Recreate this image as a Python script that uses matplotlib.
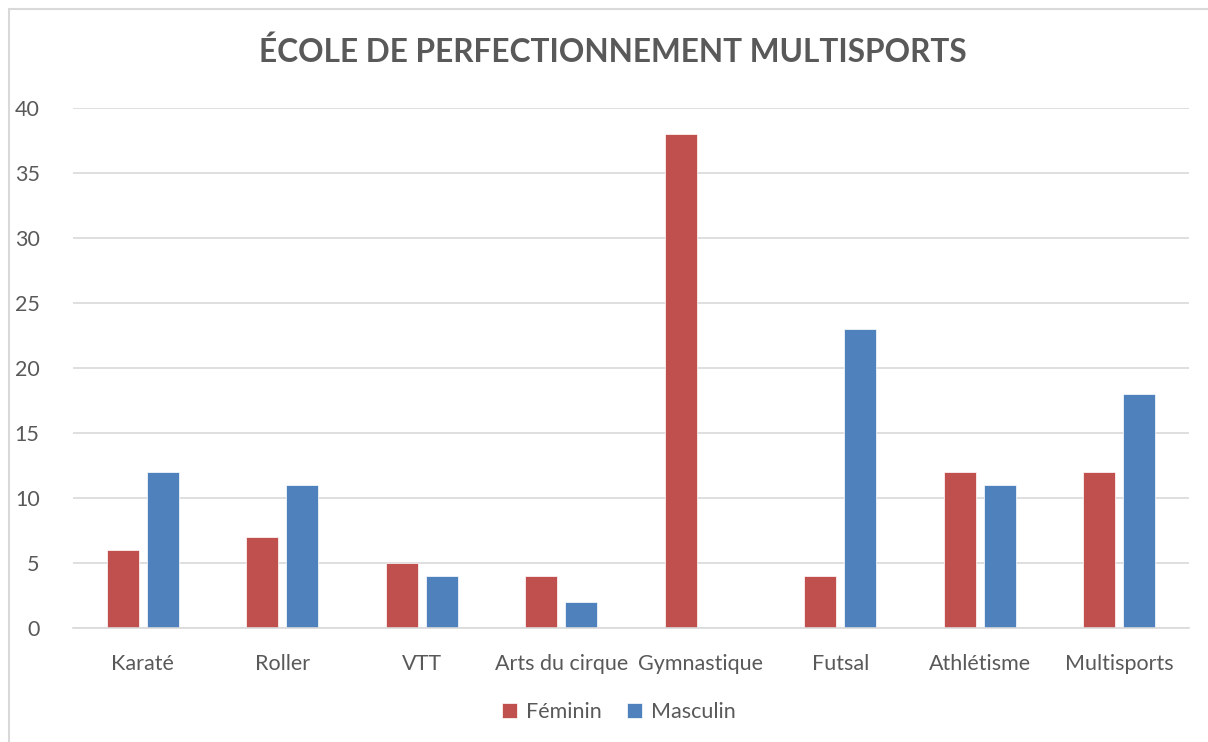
import matplotlib
matplotlib.use("Agg")
import matplotlib.pyplot as plt
from matplotlib.patches import Rectangle
import numpy as np

categories = ["Karaté", "Roller", "VTT", "Arts du cirque", "Gymnastique", "Futsal", "Athlétisme", "Multisports"]
feminin = [6, 7, 5, 4, 38, 4, 12, 12]
masculin = [12, 11, 4, 2, 0, 23, 11, 18]
title = "ÉCOLE DE PERFECTIONNEMENT MULTISPORTS"

plt.rcParams['font.family'] = ['Lato', 'DejaVu Sans']

W, H = 1208, 742
fig = plt.figure(figsize=(W/100, H/100), dpi=100)
ax = fig.add_axes([73/W, 1-628/H, (1189-73)/W, (628-108)/H])

x = np.arange(len(categories))
bw = 0.23
gap = 0.057
red = "#C0504D"
blue = "#4F81BD"
ax.bar(x - (bw+gap)/2, feminin, bw, color=red, label="Féminin", edgecolor="white", linewidth=0.5)
ax.bar(x + (bw+gap)/2, masculin, bw, color=blue, label="Masculin", edgecolor="white", linewidth=0.5)

ax.set_xlim(-0.5, len(categories)-0.5)
ax.set_ylim(0, 40)
ax.set_yticks(range(0, 41, 5))
ax.yaxis.grid(True, color="#D9D9D9", linewidth=1.2)
ax.set_axisbelow(True)
for s in ["top", "right", "left"]:
    ax.spines[s].set_visible(False)
ax.spines["bottom"].set_color("#D9D9D9")
ax.spines["bottom"].set_linewidth(1.2)
ax.set_xticks(x)
ax.set_xticklabels(categories)
ax.tick_params(axis="both", length=0, labelsize=15.5, labelcolor="#595959")
ax.tick_params(axis="x", pad=19)
ax.tick_params(axis="y", pad=24)
for lbl in ax.get_yticklabels():
    lbl.set_horizontalalignment("right")

fig.text(613/W, 1-52/H, title, ha="center", va="center", fontsize=22.8, fontweight="bold", color="#595959")

leg = fig.legend(loc="center", bbox_to_anchor=(619/W, 1-712/H), ncol=2, frameon=False,
                 fontsize=15.5, handlelength=0.7, handleheight=0.7, handletextpad=0.4, columnspacing=1.2)
for t in leg.get_texts():
    t.set_color("#595959")

fig.patches.append(Rectangle((9/W, -0.1), 1.2, 1-9/H+0.1, transform=fig.transFigure,
                             fill=False, edgecolor="#D9D9D9", linewidth=1.5))

fig.savefig("out.png", dpi=100)
